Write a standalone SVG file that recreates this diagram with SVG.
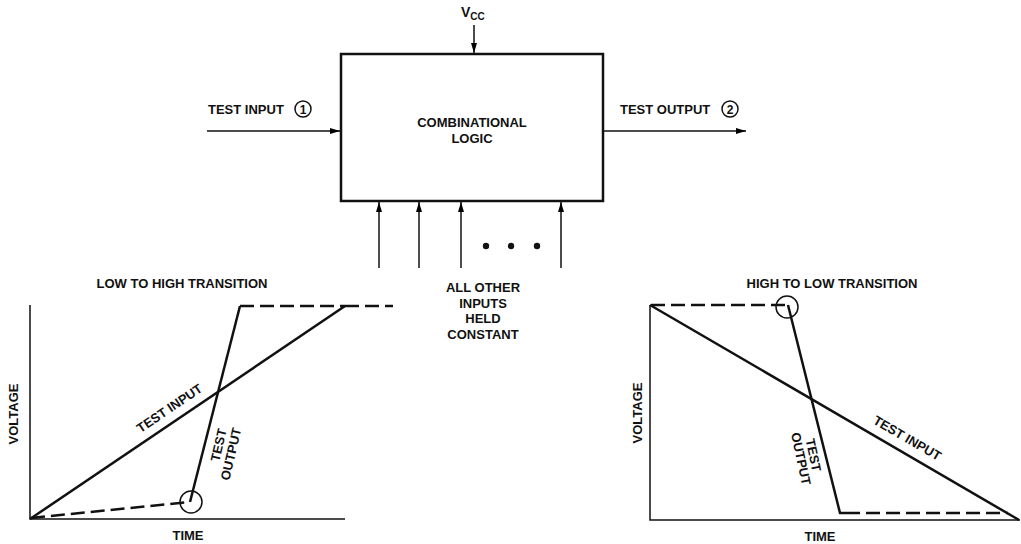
<svg xmlns="http://www.w3.org/2000/svg" width="1021" height="544" viewBox="0 0 1021 544">
<defs>
<marker id="ah" viewBox="0 0 10 6" refX="10" refY="3" markerWidth="10" markerHeight="6" markerUnits="userSpaceOnUse" orient="auto">
<path d="M0,0 L10,3 L0,6 Z" fill="#000"/>
</marker>
<style>
text{font-family:"Liberation Sans",Arial,sans-serif;font-weight:bold;font-size:13px;fill:#111}
.m{text-anchor:middle}
.ar{stroke:#111;stroke-width:1.5;fill:none;marker-end:url(#ah)}
.ax{stroke:#111;stroke-width:1.5;fill:none}
.sl{stroke:#111;stroke-width:2.5;fill:none;stroke-linejoin:miter}
.ds{stroke:#111;stroke-width:2.5;fill:none;stroke-dasharray:14 6}
.ci{stroke:#111;stroke-width:1.5;fill:none}
</style>
</defs>
<rect width="1021" height="544" fill="#fff"/>

<g id="logic">
<rect x="341" y="54" width="262" height="147" fill="none" stroke="#111" stroke-width="2.5"/>
<text class="m" x="472" y="127">COMBINATIONAL</text>
<text class="m" x="472" y="143">LOGIC</text>
</g>

<g id="vcc">
<text x="461" y="17" style="font-size:14px">V<tspan font-size="10" dy="3">CC</tspan></text>
</g>

<g id="test-input-label">
<text x="208" y="114">TEST INPUT</text>
<circle class="ci" cx="303" cy="109" r="8"/>
<text class="m" x="303" y="113.5" style="font-size:12px">1</text>
</g>

<g id="test-output-label">
<text x="620" y="114">TEST OUTPUT</text>
<circle class="ci" cx="730" cy="109" r="8"/>
<text class="m" x="730" y="113.5" style="font-size:12px">2</text>
</g>

<g id="other-inputs">
<circle cx="486" cy="246" r="3.2" fill="#111"/>
<circle cx="511" cy="246" r="3.2" fill="#111"/>
<circle cx="537" cy="246" r="3.2" fill="#111"/>
<text class="m" x="483" y="292">ALL OTHER</text>
<text class="m" x="483" y="308">INPUTS</text>
<text class="m" x="483" y="323">HELD</text>
<text class="m" x="483" y="339">CONSTANT</text>
</g>

<g id="connectors">
<line class="ar" x1="474" y1="25" x2="474" y2="53"/>
<line class="ar" x1="207" y1="131" x2="340" y2="131"/>
<line class="ar" x1="604" y1="131" x2="746" y2="131"/>
<line class="ar" x1="379" y1="268" x2="379" y2="202"/>
<line class="ar" x1="419" y1="268" x2="419" y2="202"/>
<line class="ar" x1="461" y1="268" x2="461" y2="202"/>
<line class="ar" x1="561" y1="268" x2="561" y2="202"/>
</g>

<g id="graph-low-high">
<text class="m" x="182" y="288">LOW TO HIGH TRANSITION</text>
<polyline class="ax" points="30,305 30,519 345,519"/>
<line class="sl" x1="30" y1="519" x2="345" y2="306"/>
<line class="ds" x1="345" y1="306" x2="393" y2="306"/>
<line class="ds" x1="31" y1="518" x2="190" y2="502"/>
<polyline class="sl" points="190,502 240,306"/>
<line class="ds" x1="240" y1="306" x2="345" y2="306"/>
<circle class="ci" cx="191" cy="502" r="11"/>
<text class="m" transform="translate(172,412) rotate(-34)" x="0" y="0">TEST INPUT</text>
<g transform="translate(223,446) rotate(-77)">
<text class="m" x="0" y="0">TEST</text>
<text class="m" x="-6" y="14">OUTPUT</text>
</g>
<text class="m" transform="translate(18,414) rotate(-90)" x="0" y="0">VOLTAGE</text>
<text class="m" x="188" y="540">TIME</text>
</g>

<g id="graph-high-low">
<text class="m" x="832" y="288">HIGH TO LOW TRANSITION</text>
<polyline class="ax" points="650,305 650,520 1020,520"/>
<line class="sl" x1="650" y1="305" x2="1019" y2="520"/>
<line class="ds" x1="651" y1="305" x2="788" y2="305"/>
<polyline class="sl" points="788,305 840,513 846,513"/>
<line class="ds" x1="846" y1="513" x2="1008" y2="513"/>
<circle class="ci" cx="787" cy="307" r="11"/>
<text class="m" transform="translate(905,442) rotate(30)" x="0" y="0">TEST INPUT</text>
<g transform="translate(809,456) rotate(78)">
<text class="m" x="0" y="0">TEST</text>
<text class="m" x="1" y="13">OUTPUT</text>
</g>
<text class="m" transform="translate(642,413) rotate(-90)" x="0" y="0">VOLTAGE</text>
<text class="m" x="820" y="541">TIME</text>
</g>
</svg>
